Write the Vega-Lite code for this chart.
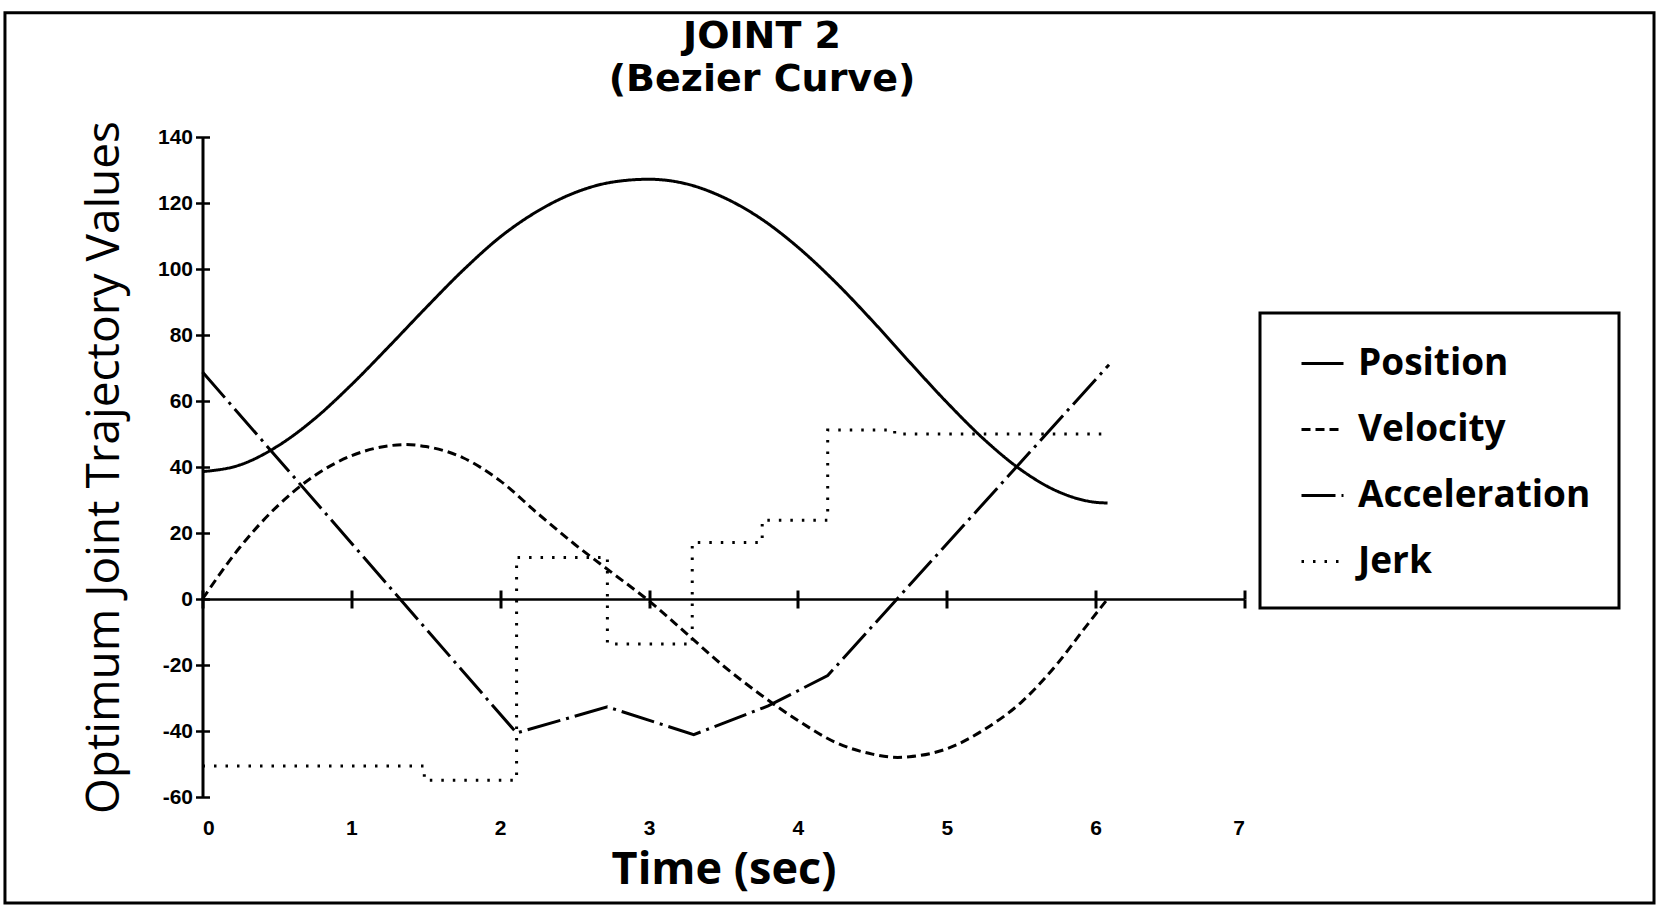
{
  "$schema": "https://vega.github.io/schema/vega-lite/v6.json",
  "width": 1042,
  "height": 660,
  "autosize": "none",
  "padding": {"left": 202.5, "top": 137, "right": 415.5, "bottom": 109},
  "background": "white",
  "title": {
    "text": ["JOINT 2", "(Bezier Curve)"],
    "font": "DejaVu Sans",
    "fontWeight": "bold",
    "fontSize": 38,
    "lineHeight": 43,
    "anchor": "middle",
    "dx": 38.5,
    "offset": -88,
    "color": "black"
  },
  "config": {
    "view": {"stroke": null},
    "axis": {"domainColor": "black", "tickColor": "black", "labelColor": "black", "titleColor": "black", "grid": false}
  },
  "data": {
    "values": [
      {"series": "Position", "t": 0, "v": 38.6},
      {"series": "Position", "t": 0.25, "v": 40.6},
      {"series": "Position", "t": 0.5, "v": 46.2},
      {"series": "Position", "t": 0.75, "v": 54.5},
      {"series": "Position", "t": 1.0, "v": 64.9},
      {"series": "Position", "t": 1.25, "v": 76.4},
      {"series": "Position", "t": 1.5, "v": 88.2},
      {"series": "Position", "t": 1.75, "v": 99.6},
      {"series": "Position", "t": 2.0, "v": 109.7},
      {"series": "Position", "t": 2.25, "v": 117.5},
      {"series": "Position", "t": 2.5, "v": 123.1},
      {"series": "Position", "t": 2.75, "v": 126.3},
      {"series": "Position", "t": 3.0, "v": 127.2},
      {"series": "Position", "t": 3.25, "v": 125.8},
      {"series": "Position", "t": 3.5, "v": 121.7},
      {"series": "Position", "t": 3.75, "v": 115.3},
      {"series": "Position", "t": 4.0, "v": 106.6},
      {"series": "Position", "t": 4.25, "v": 96.1},
      {"series": "Position", "t": 4.5, "v": 84.3},
      {"series": "Position", "t": 4.75, "v": 71.8},
      {"series": "Position", "t": 5.0, "v": 59.6},
      {"series": "Position", "t": 5.25, "v": 48.4},
      {"series": "Position", "t": 5.5, "v": 39.1},
      {"series": "Position", "t": 5.75, "v": 32.5},
      {"series": "Position", "t": 6.0, "v": 29.3},
      {"series": "Position", "t": 6.08, "v": 29.1},
      {"series": "Velocity", "t": 0, "v": 0},
      {"series": "Velocity", "t": 0.25, "v": 15.6},
      {"series": "Velocity", "t": 0.5, "v": 28.0},
      {"series": "Velocity", "t": 0.75, "v": 37.3},
      {"series": "Velocity", "t": 1.0, "v": 43.4},
      {"series": "Velocity", "t": 1.25, "v": 46.4},
      {"series": "Velocity", "t": 1.36, "v": 46.8},
      {"series": "Velocity", "t": 1.5, "v": 46.2},
      {"series": "Velocity", "t": 1.75, "v": 42.8},
      {"series": "Velocity", "t": 2.0, "v": 35.8},
      {"series": "Velocity", "t": 2.25, "v": 26.0},
      {"series": "Velocity", "t": 2.5, "v": 16.6},
      {"series": "Velocity", "t": 2.75, "v": 8.0},
      {"series": "Velocity", "t": 3.0, "v": -0.6},
      {"series": "Velocity", "t": 3.25, "v": -10.4},
      {"series": "Velocity", "t": 3.5, "v": -20.3},
      {"series": "Velocity", "t": 3.75, "v": -29.0},
      {"series": "Velocity", "t": 4.0, "v": -36.8},
      {"series": "Velocity", "t": 4.25, "v": -43.4},
      {"series": "Velocity", "t": 4.5, "v": -47.0},
      {"series": "Velocity", "t": 4.67, "v": -48.0},
      {"series": "Velocity", "t": 4.75, "v": -47.8},
      {"series": "Velocity", "t": 5.0, "v": -45.4},
      {"series": "Velocity", "t": 5.25, "v": -39.6},
      {"series": "Velocity", "t": 5.5, "v": -31.3},
      {"series": "Velocity", "t": 5.75, "v": -19.2},
      {"series": "Velocity", "t": 5.92, "v": -9.2},
      {"series": "Velocity", "t": 6.08, "v": 0},
      {"series": "Acceleration", "t": 0, "v": 68.8},
      {"series": "Acceleration", "t": 2.11, "v": -40.6},
      {"series": "Acceleration", "t": 2.72, "v": -32.7},
      {"series": "Acceleration", "t": 3.3, "v": -41.1},
      {"series": "Acceleration", "t": 3.8, "v": -32.4},
      {"series": "Acceleration", "t": 4.2, "v": -23.2},
      {"series": "Acceleration", "t": 6.09, "v": 71.0},
      {"series": "Jerk", "t": 0, "v": -50.6},
      {"series": "Jerk", "t": 1.49, "v": -54.9},
      {"series": "Jerk", "t": 2.11, "v": 12.6},
      {"series": "Jerk", "t": 2.72, "v": -13.6},
      {"series": "Jerk", "t": 3.29, "v": 17.1},
      {"series": "Jerk", "t": 3.76, "v": 23.9},
      {"series": "Jerk", "t": 4.2, "v": 51.2},
      {"series": "Jerk", "t": 4.65, "v": 50.0},
      {"series": "Jerk", "t": 6.08, "v": 50.0}
    ]
  },
  "layer": [
    {
      "data": {"values": [{}]},
      "mark": {"type": "rect", "fill": null, "stroke": "black", "strokeWidth": 3, "clip": false},
      "encoding": {
        "x": {"datum": -1.327, "type": "quantitative", "scale": {"domain": [0, 7], "nice": false, "zero": false}, "axis": null},
        "x2": {"datum": 9.751},
        "y": {"datum": 177.67, "type": "quantitative", "scale": {"domain": [-60, 140], "nice": false, "zero": false}, "axis": null},
        "y2": {"datum": -92.1}
      }
    },
    {
      "transform": [{"filter": "datum.series === 'Position'"}],
      "mark": {"type": "line", "interpolate": "monotone", "color": "black", "strokeWidth": 3},
      "encoding": {
        "x": {
          "field": "t", "type": "quantitative",
          "scale": {"domain": [0, 7], "nice": false, "zero": false},
          "axis": {
            "orient": "bottom", "values": [0, 1, 2, 3, 4, 5, 6, 7],
            "domain": false, "ticks": false, "tickSize": 0, "labelPadding": 20,
            "labelFont": "Liberation Sans", "labelFontWeight": "bold", "labelFontSize": 21,
            "title": "Time (sec)", "titleFont": "Open Sans", "titleFontWeight": "bold", "titleFontSize": 45, "titlePadding": 9
          }
        },
        "y": {
          "field": "v", "type": "quantitative",
          "scale": {"domain": [-60, 140], "nice": false, "zero": false},
          "axis": {
            "orient": "left", "values": [-60, -40, -20, 0, 20, 40, 60, 80, 100, 120, 140],
            "domainWidth": 3, "tickSize": 7, "tickWidth": 2.5, "labelPadding": 3,
            "labelExpr": "datum.value < 0 ? '-' + abs(datum.value) : '' + datum.value",
            "labelFont": "Liberation Sans", "labelFontWeight": "bold", "labelFontSize": 21,
            "title": "Optimum Joint Trajectory Values", "titleFont": "Open Sans", "titleFontWeight": 500, "titleFontSize": 46, "titlePadding": 29
          }
        },
        "strokeDash": {
          "field": "series", "type": "nominal",
          "scale": {"domain": ["Position", "Velocity", "Acceleration", "Jerk"], "range": [[1, 0], [9, 5], [34, 6, 3, 6], [2.5, 9]]},
          "legend": {
            "title": null, "orient": "none", "legendX": 1057.5, "legendY": 176,
            "symbolType": "stroke", "symbolSize": 1764, "symbolStrokeWidth": 3, "symbolStrokeColor": "black",
            "labelFont": "Open Sans", "labelFontWeight": "bold", "labelFontSize": 37, "labelColor": "black", "labelLimit": 400,
            "labelOffset": 13, "rowPadding": 25, "padding": 28, "symbolOffset": 12, "strokeColor": "black",
            "encode": {"legend": {"update": {"strokeWidth": {"value": 3}}}}
          }
        }
      }
    },
    {
      "transform": [{"filter": "datum.series === 'Velocity'"}],
      "mark": {"type": "line", "interpolate": "monotone", "color": "black", "strokeWidth": 3},
      "encoding": {
        "x": {
          "field": "t", "type": "quantitative",
          "axis": {"orient": "bottom", "offset": -198, "values": [0, 1, 2, 3, 4, 5, 6, 7], "domain": true, "domainWidth": 2.5, "ticks": true, "tickSize": 9, "tickWidth": 3, "labels": false, "title": null}
        },
        "y": {
          "field": "v", "type": "quantitative",
          "axis": {"orient": "right", "offset": -1042, "values": [-60, -40, -20, 0, 20, 40, 60, 80, 100, 120, 140], "domain": false, "ticks": true, "tickSize": 7, "tickWidth": 2.5, "labels": false, "title": null}
        },
        "strokeDash": {"field": "series", "type": "nominal"}
      }
    },
    {
      "transform": [{"filter": "datum.series === 'Acceleration'"}],
      "mark": {"type": "line", "interpolate": "linear", "color": "black", "strokeWidth": 3},
      "encoding": {
        "x": {
          "field": "t", "type": "quantitative",
          "axis": {"orient": "top", "offset": -462, "values": [0, 1, 2, 3, 4, 5, 6, 7], "domain": false, "ticks": true, "tickSize": 9, "tickWidth": 3, "labels": false, "title": null}
        },
        "y": {"field": "v", "type": "quantitative", "axis": null},
        "strokeDash": {"field": "series", "type": "nominal"}
      }
    },
    {
      "transform": [{"filter": "datum.series === 'Jerk'"}],
      "mark": {"type": "line", "interpolate": "step-after", "color": "black", "strokeWidth": 3},
      "encoding": {
        "x": {"field": "t", "type": "quantitative", "axis": null},
        "y": {"field": "v", "type": "quantitative", "axis": null},
        "strokeDash": {"field": "series", "type": "nominal"}
      }
    }
  ],
  "resolve": {"axis": {"x": "independent", "y": "independent"}}
}
